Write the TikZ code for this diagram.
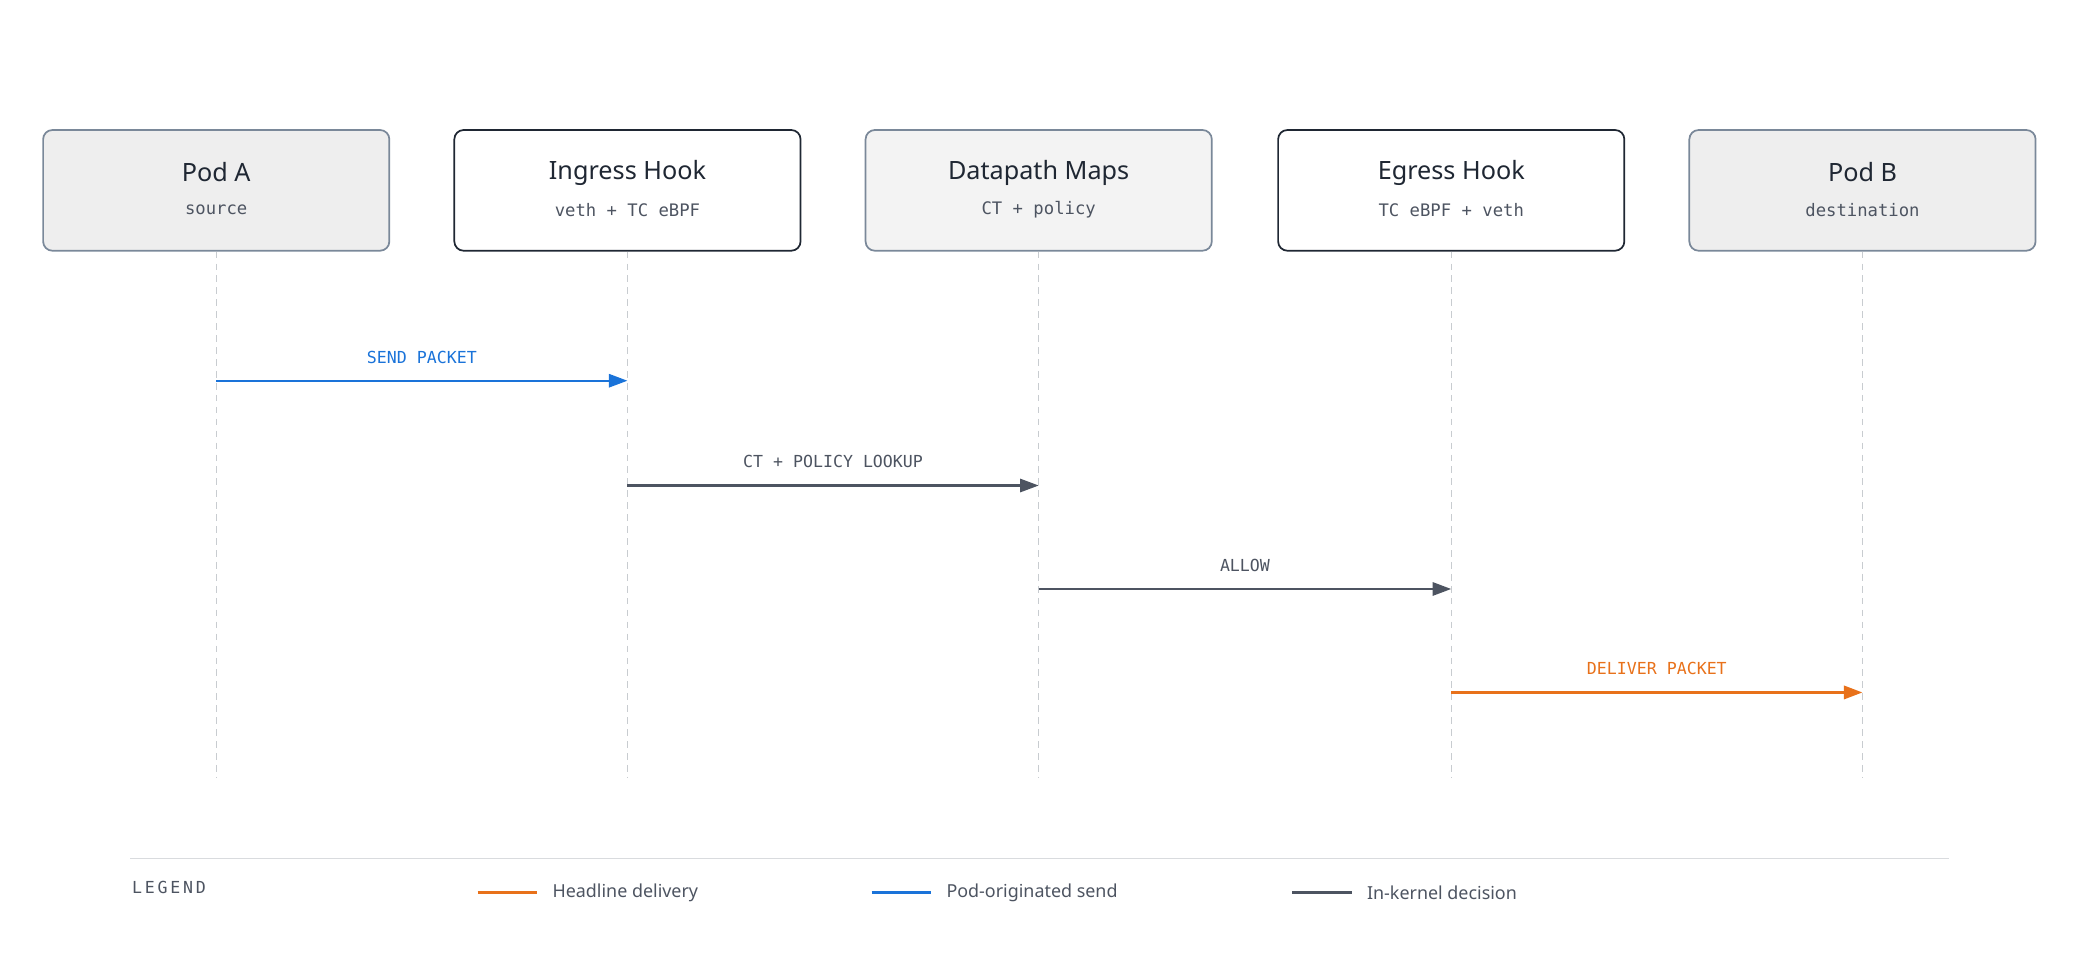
\documentclass[tikz,border=0pt]{standalone}
\usepackage{fontspec}
\setmainfont{Noto Sans}
\newfontfamily\monof{DejaVu Sans Mono}
\usetikzlibrary{arrows.meta}
\definecolor{ink}{HTML}{1F2733}
\definecolor{edge}{HTML}{7A8899}
\definecolor{podfill}{HTML}{EEEEEE}
\definecolor{mapfill}{HTML}{F3F3F3}
\definecolor{blu}{HTML}{1A73D9}
\definecolor{gry}{HTML}{4D5461}
\definecolor{org}{HTML}{E8711A}
\definecolor{life}{HTML}{C8CCD0}
\definecolor{sub}{HTML}{4D5461}
\begin{document}
\begin{tikzpicture}[x=1pt,y=-1pt,
  box/.style={draw, rounded corners=7pt, minimum width=261pt, minimum height=91pt, line width=1.3pt},
  pod/.style={box, draw=edge, fill=podfill},
  hook/.style={box, draw=ink, fill=white},
  maps/.style={box, draw=edge, fill=mapfill},
  ttl/.style={font=\fontsize{19}{22}\selectfont\bfseries, text=ink},
  subt/.style={font=\monof\fontsize{13}{15}\selectfont, text=sub},
  lifeline/.style={draw=life, dashed, line width=1pt, dash pattern=on 5pt off 4pt},
  msg/.style={line width=1.6pt, -{Triangle[length=14pt,width=10pt]}},
  lbl/.style={font=\monof\fontsize{12.5}{15}\selectfont},
  leg/.style={font=\fontsize{13.5}{16}\selectfont, text=sub, anchor=west}]
\useasboundingbox (0,0) rectangle (1568,720);
\foreach \n/\x/\s/\t/\u in {a/163/pod/Pod A/source, i/473/hook/Ingress Hook/veth + TC eBPF, m/783/maps/Datapath Maps/CT + policy, e/1094/hook/Egress Hook/TC eBPF + veth, b/1404/pod/Pod B/destination}{
  \node[\s] (\n) at (\x,143.5) {};
  \node[ttl] (\n t) at (\x,130) {\t};
  \node[subt] (\n s) at (\x,158) {\u};
  \coordinate (\n 0) at (\x,586);
  \draw[lifeline] (\n.south) -- (\n 0);
  \coordinate (\n 1) at (\x,287);
  \coordinate (\n 2) at (\x,366);
  \coordinate (\n 3) at (\x,444);
  \coordinate (\n 4) at (\x,522);
}
\draw[msg, draw=blu, fill=blu] (a1) -- node[lbl, text=blu, above=9pt] {SEND PACKET} (i1);
\draw[msg, draw=gry, fill=gry] (i2) -- node[lbl, text=gry, above=9pt] {CT + POLICY LOOKUP} (m2);
\draw[msg, draw=gry, fill=gry] (m3) -- node[lbl, text=gry, above=9pt] {ALLOW} (e3);
\draw[msg, draw=org, fill=org, line width=2pt] (e4) -- node[lbl, text=org, above=9pt] {DELIVER PACKET} (b4);
\coordinate (l0) at (98,647); \coordinate (l1) at (1469,647);
\draw[draw=life!70, line width=1pt] (l0) -- (l1);
\node[font=\monof\fontsize{12.5}{15}\selectfont, text=sub, anchor=west] (lg) at (96,669) {L\,E\,G\,E\,N\,D};
\coordinate (o0) at (360,673); \coordinate (o1) at (405,673);
\draw[org, line width=2pt] (o0) -- (o1);
\node[leg] (ot) at (413,673) {Headline delivery};
\coordinate (b0) at (657,673); \coordinate (b1) at (702,673);
\draw[blu, line width=2pt] (b0) -- (b1);
\node[leg] (bt) at (710,673) {Pod-originated send};
\coordinate (g0) at (974,673); \coordinate (g1) at (1019,673);
\draw[gry, line width=2pt] (g0) -- (g1);
\node[leg] (gt) at (1027,673) {In-kernel decision};
\end{tikzpicture}
\end{document}
